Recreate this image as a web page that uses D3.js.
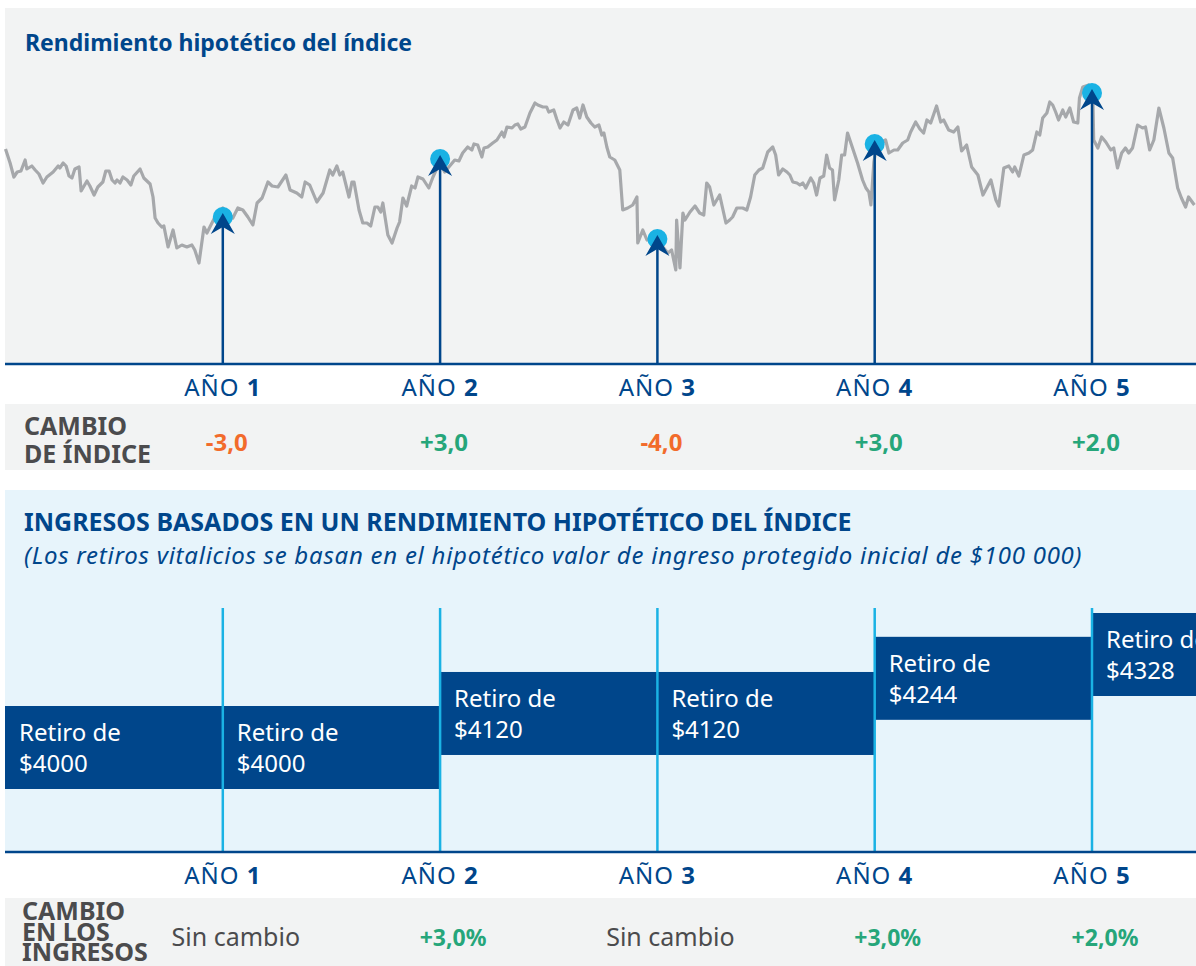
<!DOCTYPE html>
<html>
<head>
<meta charset="utf-8">
<script src="https://cdn.jsdelivr.net/npm/d3@7"></script>
<style>
  body { margin: 0; background: #fff; }
  svg { display: block; font-family: "Noto Sans", sans-serif; }
</style>
</head>
<body>
<svg width="1196" height="966"></svg>
<script>
// hypothetical index path: [week, index level]
var indexSeries = [[0,1051],[1.1,1037],[2.0,1023],[2.8,1028],[3.7,1029],[4.7,1040],[5.1,1031],[6.3,1034],[7.1,1030],[8.0,1026],[9.0,1017],[9.9,1023],[11.4,1028],[12.6,1034],[13.0,1032],[13.8,1037],[14.5,1034],[15.2,1024],[15.9,1022],[16.6,1031],[17.6,1033],[18.1,1009],[19.5,1019],[20.2,1014],[21.2,1005],[22.1,1013],[23.3,1018],[24.0,1029],[24.8,1029],[25.5,1020],[26.2,1017],[26.7,1020],[27.4,1017],[28.1,1023],[29.1,1020],[30.0,1015],[30.7,1024],[32.2,1031],[33.1,1022],[34.6,1016],[35.3,1003],[35.8,982],[36.5,977],[37.4,973],[37.9,974],[38.9,953],[40.1,970],[41.0,952],[42.2,955],[43.4,953],[44.6,955],[45.3,950],[46.3,937],[47.5,973],[48.2,967],[49.4,977],[50.6,987],[52.0,992],[54.4,982],[55.6,992],[56.8,990],[58.0,983],[59.2,975],[60.2,997],[61.4,1002],[62.8,1018],[63.8,1014],[65.2,1013],[67.1,1025],[68.1,1010],[69.7,1007],[70.9,1003],[71.7,1018],[72.8,1015],[74.5,998],[76.0,1007],[77.6,1030],[78.3,1025],[79.3,1034],[80.0,1025],[80.7,1028],[82.2,1003],[82.9,1018],[83.4,1018],[84.6,990],[85.5,977],[86.5,977],[87.4,974],[88.4,993],[89.1,993],[89.8,988],[90.3,997],[91.5,965],[92.5,957],[93.7,972],[94.3,978],[95.1,1002],[96.0,994],[97.2,1014],[98.0,1012],[98.7,1023],[99.9,1021],[101.3,1012],[102.3,1023],[103.9,1038],[105.1,1028],[106.3,1034],[107.5,1040],[108.5,1039],[109.4,1047],[110.6,1053],[111.6,1050],[112.1,1056],[113.0,1055],[114.0,1043],[114.5,1052],[115.4,1053],[116.6,1057],[117.6,1060],[118.8,1068],[119.3,1063],[120.0,1073],[121.2,1072],[121.9,1075],[122.6,1076],[123.3,1071],[124.3,1073],[125.5,1087],[126.7,1097],[127.4,1095],[128.6,1093],[129.5,1093],[130.0,1088],[131.2,1090],[131.9,1081],[132.7,1072],[133.6,1078],[134.6,1075],[135.8,1090],[136.7,1092],[137.4,1082],[138.2,1095],[139.1,1083],[140.1,1077],[141.0,1073],[142.0,1075],[142.7,1065],[143.2,1067],[143.9,1053],[144.6,1043],[145.8,1040],[147.0,1030],[147.7,990],[148.9,992],[150.1,995],[151.1,1003],[151.3,957],[152.5,970],[153.5,960],[154.7,962],[157.3,953],[158.5,947],[159.4,950],[160.4,930],[160.6,980],[161.4,932],[162.1,987],[162.6,980],[163.8,988],[165.0,994],[166.1,987],[167.1,985],[167.8,1017],[168.5,1013],[169.5,995],[170.9,1005],[172.4,977],[173.3,980],[174.0,983],[175.0,992],[176.4,992],[177.4,990],[178.3,1003],[179.3,1025],[180.3,1030],[181.2,1032],[182.4,1048],[183.6,1053],[184.3,1045],[185.0,1025],[186.0,1031],[187.0,1028],[187.7,1025],[188.4,1018],[189.4,1017],[190.1,1015],[190.8,1017],[191.5,1012],[192.7,1022],[193.4,1017],[194.1,1005],[194.9,1022],[195.8,1024],[196.5,1045],[197.2,1032],[197.9,1030],[198.4,1000],[199.4,1020],[200.1,1045],[200.8,1045],[201.5,1067],[202.3,1057],[203.9,1037],[205.1,1020],[205.9,1012],[206.6,1008],[207.1,995],[207.8,1038],[208.5,1055],[210.6,1060],[211.4,1047],[212.6,1050],[213.5,1050],[214.7,1057],[215.9,1060],[216.6,1068],[217.8,1078],[218.8,1071],[219.7,1067],[220.5,1080],[221.4,1077],[222.8,1094],[223.8,1078],[224.5,1080],[225.7,1070],[226.9,1068],[227.9,1073],[228.8,1049],[230.0,1055],[231.2,1033],[232.7,1025],[233.9,1005],[234.8,1012],[235.8,1020],[237.0,1000],[237.7,994],[238.9,1032],[240.1,1034],[241.0,1028],[241.5,1033],[242.5,1024],[243.7,1045],[244.9,1047],[245.8,1050],[246.8,1068],[247.5,1065],[248.2,1082],[249.2,1087],[249.9,1098],[250.6,1095],[251.3,1088],[252.0,1080],[253.0,1090],[253.7,1083],[254.7,1092],[255.6,1078],[256.6,1077],[257.0,1102],[257.8,1113],[259.2,1115],[260.2,1105],[260.4,1060],[261.4,1052],[262.3,1063],[263.3,1058],[264.5,1050],[265.2,1052],[266.1,1032],[267.1,1047],[268.0,1052],[268.8,1047],[269.7,1052],[270.9,1075],[272.1,1072],[272.8,1073],[273.8,1050],[274.8,1060],[276.0,1092],[277.2,1072],[278.4,1047],[279.3,1042],[280.5,1012],[281.4,1002],[282.4,993],[283.1,1003],[284.5,995]];

var years = [1, 2, 3, 4, 5];
var yearLevels = [983, 1041, 961, 1056, 1107];      // index level on each anniversary
var indexChange = [-3.0, 3.0, -4.0, 3.0, 2.0];
var withdrawals = [4000, 4000, 4120, 4120, 4244, 4328]; // year 0..5
var incomeChange = [null, 3.0, null, 3.0, 2.0];       // null = "Sin cambio"

var svg = d3.select('svg');
var width = 1196;

var blue = '#00468b', light = '#1ab2e4', gray = '#a6a8ab';
var green = '#26a67a', orange = '#f26b2b', dark = '#4b4b4d';

var loc = d3.formatLocale({decimal: ',', thousands: ' ', grouping: [3], currency: ['$', ''], minus: '-'});
var fmtChange = loc.format('+.1f');
var fmtMoney = loc.format('$d');

//x scale in weeks, shared by both panels
var xScale = d3.scaleLinear().domain([0, 52 * 5.5]).range([5.5, 5.5 + 217.3 * 5.5]);
var yearX = y => xScale(52 * y);

//index level scale
var yScale = d3.scaleLinear().domain([836, 1136]).range([364, 64]);

// ---------- top panel ----------
svg.append('rect').attr('x', 5).attr('y', 8).attr('width', width - 5).attr('height', 356).attr('fill', '#f2f3f3');
svg.append('text').attr('x', 25).attr('y', 51)
   .attr('fill', blue).attr('font-weight', 700).attr('font-size', 23)
   .text('Rendimiento hipotético del índice');

var line = d3.line().x(d => xScale(d[0])).y(d => yScale(d[1]));
svg.append('path').datum(indexSeries)
   .attr('d', line).attr('fill', 'none')
   .attr('stroke', gray).attr('stroke-width', 3.2).attr('stroke-linejoin', 'round');

var marks = svg.append('g').selectAll('g').data(years).enter().append('g');
marks.append('circle')
   .attr('cx', d => yearX(d)).attr('cy', (d, i) => yScale(yearLevels[i]))
   .attr('r', 10).attr('fill', light);
marks.append('line')
   .attr('x1', d => yearX(d)).attr('x2', d => yearX(d))
   .attr('y1', yScale(836)).attr('y2', (d, i) => yScale(yearLevels[i]) + 10)
   .attr('stroke', blue).attr('stroke-width', 2.5);
marks.append('path')
   .attr('d', (d, i) => {
     var cx = yearX(d), cy = yScale(yearLevels[i]);
     return 'M' + cx + ',' + (cy - 4) + 'L' + (cx + 12) + ',' + (cy + 17) +
            'L' + cx + ',' + (cy + 10) + 'L' + (cx - 12) + ',' + (cy + 17) + 'Z';
   })
   .attr('fill', blue);

// axis line + year labels
function yearAxis(y, labelY) {
  svg.append('line').attr('x1', 5).attr('x2', width).attr('y1', y).attr('y2', y)
     .attr('stroke', blue).attr('stroke-width', 2.5);
  var t = svg.append('g').selectAll('text').data(years).enter().append('text')
     .attr('x', d => yearX(d)).attr('y', labelY)
     .attr('text-anchor', 'middle').attr('font-size', 24).attr('letter-spacing', 1)
     .attr('fill', blue);
  t.append('tspan').text('AÑO ');
  t.append('tspan').attr('font-weight', 700).text(d => d);
}
yearAxis(yScale(836), 396);

// index change row
svg.append('rect').attr('x', 5).attr('y', 404).attr('width', width - 5).attr('height', 66).attr('fill', '#f2f3f3');
svg.append('text').attr('font-weight', 700).attr('font-size', 25).attr('fill', dark)
   .selectAll('tspan').data(['CAMBIO', 'DE ÍNDICE']).enter().append('tspan')
   .attr('x', 24).attr('y', (d, i) => 435 + i * 28).text(d => d);
svg.append('g').selectAll('text').data(indexChange).enter().append('text')
   .attr('x', (d, i) => yearX(years[i]) + 4).attr('y', 451)
   .attr('text-anchor', 'middle').attr('font-weight', 700).attr('font-size', 24)
   .attr('fill', d => d < 0 ? orange : green)
   .text(d => fmtChange(d));

// ---------- bottom panel ----------
svg.append('rect').attr('x', 5).attr('y', 490).attr('width', width - 5).attr('height', 362).attr('fill', '#e7f4fb');
svg.append('text').attr('x', 24).attr('y', 531)
   .attr('fill', blue).attr('font-weight', 700).attr('font-size', 25)
   .text('INGRESOS BASADOS EN UN RENDIMIENTO HIPOTÉTICO DEL ÍNDICE');
svg.append('text').attr('x', 24).attr('y', 564)
   .attr('fill', blue).attr('font-style', 'italic').attr('font-size', 24).attr('letter-spacing', 0.75)
   .text('(Los retiros vitalicios se basan en el hipotético valor de ingreso protegido inicial de $100 000)');

var wScale = d3.scaleLinear().domain([4000, 4328]).range([706, 613]);
var barH = 83;

var bars = svg.append('g').selectAll('g').data(withdrawals).enter().append('g');
bars.append('rect')
   .attr('x', (d, i) => i === 0 ? 5 : yearX(i))
   .attr('y', d => wScale(d))
   .attr('width', (d, i) => yearX(i + 1) - (i === 0 ? 5 : yearX(i)))
   .attr('height', barH)
   .attr('fill', blue);
var lbl = bars.append('text').attr('fill', '#fff').attr('font-size', 24);
lbl.append('tspan').attr('x', (d, i) => (i === 0 ? 5 : yearX(i)) + 14).attr('y', d => wScale(d) + 35).text('Retiro de');
lbl.append('tspan').attr('x', (d, i) => (i === 0 ? 5 : yearX(i)) + 14).attr('y', d => wScale(d) + 66).text(d => fmtMoney(d));

svg.append('g').selectAll('line').data(years).enter().append('line')
   .attr('x1', d => yearX(d)).attr('x2', d => yearX(d))
   .attr('y1', 608).attr('y2', 852)
   .attr('stroke', light).attr('stroke-width', 2.5);

yearAxis(852, 884);

// income change row
svg.append('rect').attr('x', 5).attr('y', 898).attr('width', width - 5).attr('height', 68).attr('fill', '#f2f3f3');
svg.append('text').attr('font-weight', 700).attr('font-size', 25).attr('fill', dark)
   .selectAll('tspan').data(['CAMBIO', 'EN LOS', 'INGRESOS']).enter().append('tspan')
   .attr('x', 22).attr('y', (d, i) => 920 + i * 20.5).text(d => d);
svg.append('g').selectAll('text').data(incomeChange).enter().append('text')
   .attr('x', (d, i) => yearX(years[i]) + 13).attr('y', 946)
   .attr('text-anchor', 'middle')
   .attr('font-size', d => d === null ? 25 : 23)
   .attr('font-weight', d => d === null ? 400 : 700)
   .attr('fill', d => d === null ? dark : green)
   .text(d => d === null ? 'Sin cambio' : fmtChange(d) + '%');
</script>
</body>
</html>
